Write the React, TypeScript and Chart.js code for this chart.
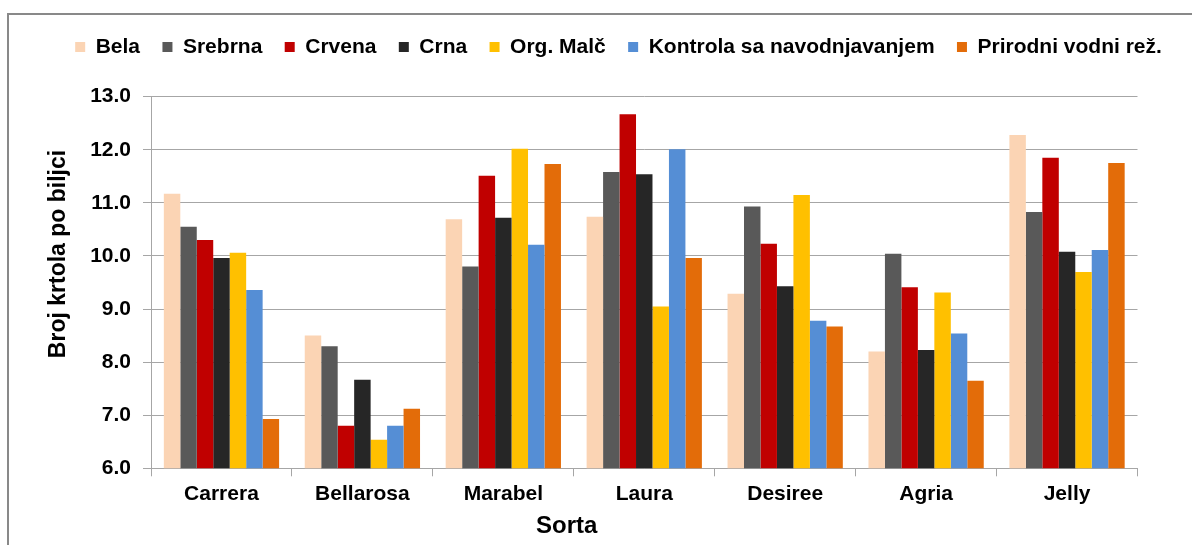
import React, { useEffect, useRef } from "react";
import { Chart, registerables } from "chart.js";

Chart.register(...registerables);

const categories = ["Carrera", "Bellarosa", "Marabel", "Laura", "Desiree", "Agria", "Jelly"];
const bela = [11.17, 8.5, 10.69, 10.74, 9.29, 8.2, 12.28];
const srebrna = [10.55, 8.3, 9.8, 11.58, 10.93, 10.04, 10.83];
const crvena = [10.3, 6.8, 11.51, 12.67, 10.23, 9.41, 11.85];
const crna = [9.96, 7.67, 10.72, 11.54, 9.43, 8.23, 10.08];
const orgMalc = [10.06, 6.54, 12.02, 9.05, 11.15, 9.31, 9.7];
const kontrola = [9.36, 6.8, 10.21, 12.01, 8.78, 8.54, 10.11];
const prirodni = [6.93, 7.12, 11.73, 9.96, 8.67, 7.65, 11.75];

const seriesNames = ["Bela", "Srebrna", "Crvena", "Crna", "Org. Malč", "Kontrola sa navodnjavanjem", "Prirodni vodni rež."];
const seriesColors = ["#FBD4B4", "#595959", "#C00000", "#262626", "#FFC000", "#558ED5", "#E36C09"];
const yTitle = "Broj krtola po biljci";
const xTitle = "Sorta";

const FONT = "'Liberation Sans', Arial, sans-serif";

const titlesPlugin = {
  id: "customTitles",
  afterLayout(chart: any) {
    const lg = chart.legend;
    if (lg) {
      lg.left = 45;
      lg.right = 1192;
      lg.width = lg.right - lg.left;
    }
  },
  afterDraw(chart: any) {
    const ctx = chart.ctx;
    ctx.save();
    ctx.fillStyle = "#000";
    ctx.textAlign = "center";
    ctx.textBaseline = "middle";
    ctx.font = `bold 23px ${FONT}`;
    ctx.translate(58.5, 254);
    ctx.rotate(-Math.PI / 2);
    ctx.fillText(yTitle, 0, 0);
    ctx.restore();
    ctx.save();
    ctx.fillStyle = "#000";
    ctx.textAlign = "center";
    ctx.textBaseline = "middle";
    ctx.font = `bold 24px ${FONT}`;
    ctx.fillText(xTitle, 566.7, 526);
    ctx.restore();
  },
};

export default function App() {
  const ref = useRef<HTMLCanvasElement | null>(null);
  useEffect(() => {
    if (!ref.current) return;
    const values = [bela, srebrna, crvena, crna, orgMalc, kontrola, prirodni];
    const chart = new Chart(ref.current, {
      type: "bar",
      data: {
        labels: categories,
        datasets: values.map((v, i) => ({
          label: seriesNames[i],
          data: v,
          backgroundColor: seriesColors[i],
          borderWidth: 0,
          categoryPercentage: 0.818,
          barPercentage: 1,
        })),
      },
      options: {
        responsive: false,
        animation: false,
        layout: { padding: { left: 0, right: 54.5, top: 14.1, bottom: 0 } },
        plugins: {
          tooltip: { enabled: false },
          title: {
            display: true,
            text: "",
            weight: 2000,
            font: { size: 10, lineHeight: 1 },
            padding: { top: 0, bottom: 19.2 },
          } as any,
          legend: {
            display: true,
            position: "top",
            weight: 3000,
            labels: {
              boxWidth: 10,
              boxHeight: 10,
              padding: 22.4,
              color: "#000",
              font: { family: FONT, size: 21, weight: "bold" },
            },
          } as any,
        },
        scales: {
          x: {
            grid: {
              display: true,
              drawOnChartArea: false,
              drawTicks: true,
              tickLength: 8,
              color: "#A6A6A6",
              offset: true,
            },
            border: { display: true, color: "#A6A6A6", width: 1 },
            ticks: {
              color: "#000",
              padding: 5,
              font: { family: FONT, size: 21, weight: "bold" },
              maxRotation: 0,
            },
            afterFit: (scale: any) => {
              scale.height = 76.7;
            },
          },
          y: {
            min: 6,
            max: 13,
            grid: {
              color: "#A6A6A6",
              tickLength: 8,
              lineWidth: 1,
            },
            border: { display: true, color: "#A6A6A6", width: 1 },
            ticks: {
              stepSize: 1,
              color: "#000",
              padding: 12,
              font: { family: FONT, size: 21, weight: "bold" },
              callback: (v: any) => Number(v).toFixed(1),
            },
            afterFit: (scale: any) => {
              scale.width = 151;
            },
          },
        },
      },
      plugins: [titlesPlugin],
    });
    return () => chart.destroy();
  }, []);

  return (
    <div style={{ position: "fixed", left: 0, top: 0, width: 1192, height: 545, background: "#fff", overflow: "hidden" }}>
      <canvas ref={ref} width={1192} height={545} style={{ position: "absolute", left: 0, top: 0 }} />
      <div
        style={{
          position: "absolute",
          left: 7,
          top: 13,
          width: 1300,
          height: 700,
          borderTop: "2px solid #898989",
          borderLeft: "2px solid #898989",
          pointerEvents: "none",
        }}
      />
    </div>
  );
}
